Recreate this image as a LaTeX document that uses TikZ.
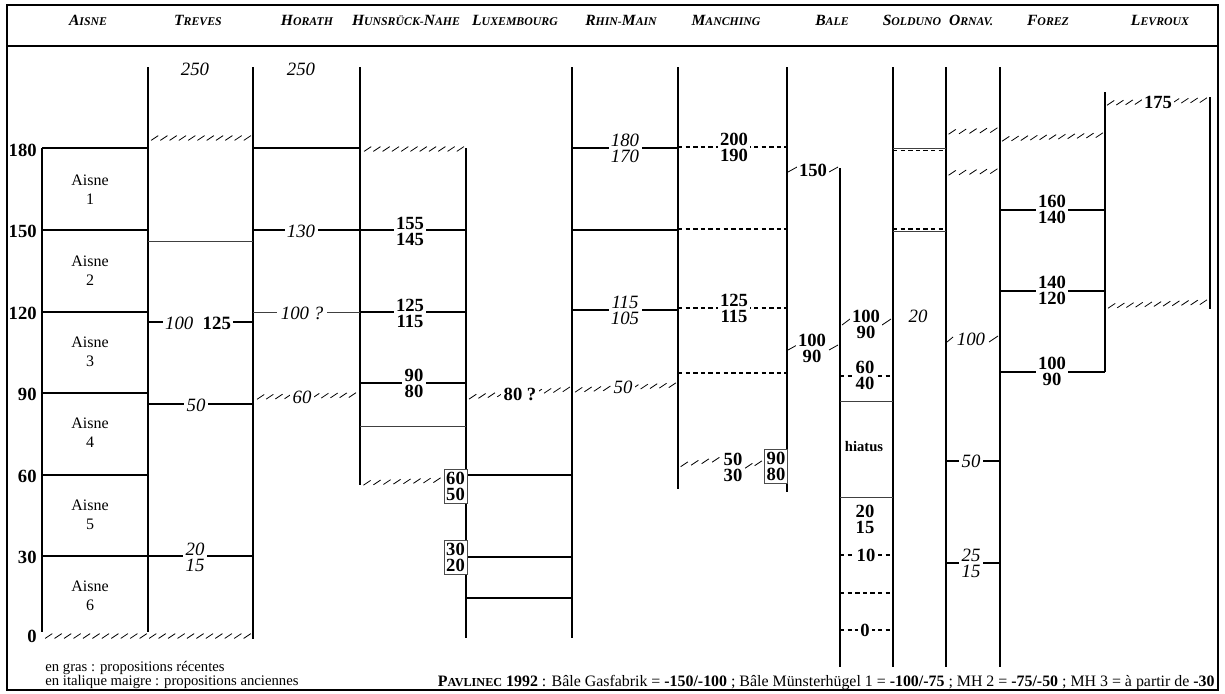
\documentclass[tikz,border=0pt]{standalone}
\usepackage{fontspec}
\setmainfont{Liberation Serif}
\newcommand\hdr[2]{{\bfseries\itshape\fontsize{7.8}{8}\selectfont #1\fontsize{5.9}{6}\selectfont #2}}
\newcommand\hatchband[4]{%
  \pgfmathsetmacro\hbl{(#3)-(#1)}%
  \pgfmathtruncatemacro\hbn{max(1,round(\hbl/9.5))}%
  \foreach \hk in {1,...,\hbn}{%
    \pgfmathsetmacro\hbx{#1+(\hk-0.5)*\hbl/\hbn}%
    \pgfmathsetmacro\hby{#2+(\hk-0.5)*((#4)-(#2))/\hbn}%
    \draw[hst] (\hbx-3.6,\hby+2.4) -- (\hbx+3.6,\hby-2.4);
  }}
\begin{document}
\begin{tikzpicture}[x=0.5pt,y=-0.5pt,
  ln/.style={line width=0.7pt},
  tl/.style={line width=0.45pt, black!75},
  dl/.style={line width=0.6pt, dash pattern=on 2.2pt off 1.6pt},
  hst/.style={line width=0.4pt},
  bn/.style={font=\bfseries\fontsize{9.3}{8}\selectfont, fill=white, inner xsep=1.2pt, inner ysep=0pt, align=center},
  it/.style={font=\itshape\fontsize{9.4}{8}\selectfont, fill=white, inner xsep=1.2pt, inner ysep=0pt, align=center},
  ax/.style={font=\bfseries\fontsize{9.3}{10}\selectfont, anchor=east, inner sep=0pt},
  rg/.style={font=\fontsize{8}{9.5}\selectfont, align=center, inner sep=0pt},
  bx/.style={draw=black!70, line width=0.4pt, text=black, fill=white, inner sep=0.5pt, font=\bfseries\fontsize{9.3}{8}\selectfont, align=center, minimum width=11.5pt, minimum height=17pt},
  hd/.style={anchor=base, inner sep=0pt}]
\useasboundingbox (0,0) rectangle (1225,693);
% frame
\draw[line width=0.75pt] (7,5) rectangle (1218,690);
\draw[line width=0.75pt] (7,46) -- (1218,46);
% headers
\node[hd] (hA) at (88,25) {\hdr{A}{ISNE}};
\node[hd] (hT) at (198,25) {\hdr{T}{REVES}};
\node[hd] (hH) at (307,25) {\hdr{H}{ORATH}};
\node[hd] (hHN) at (406,25) {\hdr{H}{UNSRÜCK-}\hdr{N}{AHE}};
\node[hd] (hL) at (515,25) {\hdr{L}{UXEMBOURG}};
\node[hd] (hR) at (621,25) {\hdr{R}{HIN-}\hdr{M}{AIN}};
\node[hd] (hM) at (726,25) {\hdr{M}{ANCHING}};
\node[hd] (hB) at (832,25) {\hdr{B}{ALE}};
\node[hd] (hS) at (912,25) {\hdr{S}{OLDUNO}};
\node[hd] (hO) at (971,25) {\hdr{O}{RNAV.}};
\node[hd] (hF) at (1048,25) {\hdr{F}{OREZ}};
\node[hd] (hLv) at (1160,25) {\hdr{L}{EVROUX}};
% vertical lines
\draw[ln] (42,148) -- (42,632);
\draw[ln] (148,67) -- (148,632);
\draw[ln] (253,67) -- (253,639);
\draw[ln] (360,67) -- (360,485);
\draw[ln] (466,148) -- (466,638);
\draw[ln] (572,67) -- (572,638);
\draw[ln] (678,67) -- (678,489);
\draw[ln] (787,67) -- (787,492);
\draw[ln] (840,168) -- (840,667);
\draw[ln] (893,67) -- (893,667);
\draw[ln] (946,67) -- (946,667);
\draw[ln] (1000,67) -- (1000,667);
\draw[ln] (1105,92) -- (1105,372);
\draw[ln] (1210,97) -- (1210,309);
% axis
\node[ax] (a180) at (37,150) {180};
\node[ax] (a150) at (37,231) {150};
\node[ax] (a120) at (37,313) {120};
\node[ax] (a90) at (37,394) {90};
\node[ax] (a60) at (37,476) {60};
\node[ax] (a30) at (37,557) {30};
\node[ax] (a0) at (37,636) {0};
% Aisne
\foreach \yy in {148,230,312,393,475} {\draw[ln] (42,\yy) -- (148,\yy);}
\draw[ln] (42,556) -- (253,556);
\node[rg] (ai1) at (90,190) {Aisne\\1};
\node[rg] (ai2) at (90,271) {Aisne\\2};
\node[rg] (ai3) at (90,352) {Aisne\\3};
\node[rg] (ai4) at (90,433) {Aisne\\4};
\node[rg] (ai5) at (90,515) {Aisne\\5};
\node[rg] (ai6) at (90,596) {Aisne\\6};
\hatchband{44}{636}{252}{636}
% Treves
\node[it] (t250) at (195,69) {250};
\hatchband{150}{138}{252}{138}
\draw[tl] (148,241) -- (253,241);
\draw[ln] (148,322) -- (253,322);
\node[fill=white, inner xsep=1.2pt, inner ysep=0pt] (t100) at (198,323) {\itshape\fontsize{9.4}{8}\selectfont 100\ \ \bfseries\upshape 125};
\draw[ln] (148,404) -- (253,404);
\node[it] (t50) at (196,405) {50};
\node[it] (t2015) at (195,557) {20\\15};
% Horath
\node[it] (h250) at (301,69) {250};
\draw[ln] (253,148) -- (360,148);
\draw[ln] (253,230) -- (360,230);
\node[it] (h130) at (301,231) {130};
\draw[tl] (253,312) -- (360,312);
\node[it, inner xsep=2pt] (h100) at (302,313) {100 ?};
\hatchband{256}{397}{357}{395}
\node[it] (h60) at (302,397) {60};
% Hunsrueck-Nahe
\hatchband{363}{149}{465}{149}
\draw[ln] (360,230) -- (466,230);
\node[bn] (hn155) at (410,231) {155\\145};
\draw[ln] (360,312) -- (466,312);
\node[bn] (hn125) at (410,313) {125\\115};
\draw[ln] (360,383) -- (466,383);
\node[bn] (hn90) at (414,383) {90\\80};
\draw[tl] (360,426) -- (466,426);
\hatchband{362}{483}{442}{480}
\draw[ln] (466,475) -- (572,475);
\draw[ln] (466,557) -- (572,557);
\draw[ln] (466,598) -- (572,598);
\node[bx] (hn60) at (455.5,486) {60\\50};
\node[bx] (hn30) at (455.5,557.5) {30\\20};
% Luxembourg
\hatchband{468}{397}{571}{389}
\node[bn] (lx80) at (520,394) {80 ?};
% Rhin-Main
\draw[ln] (572,148) -- (678,148);
\node[it] (rm180) at (625,148) {180\\170};
\draw[ln] (572,230) -- (678,230);
\draw[ln] (572,310) -- (678,310);
\node[it] (rm115) at (625,310) {115\\105};
\hatchband{574}{390}{677}{385}
\node[it] (rm50) at (623,387) {50};
% Manching
\draw[dl] (678,147) -- (787,147);
\node[bn] (m200) at (734,147) {200\\190};
\draw[dl] (678,229) -- (787,229);
\draw[dl] (678,308) -- (787,308);
\node[bn] (m125) at (734,308) {125\\115};
\draw[dl] (678,373) -- (787,373);
\hatchband{679}{465}{721}{459}
\node[bn, fill=none] (m50) at (733,467) {50\\30};
\hatchband{744}{467}{763}{462}
\node[bx] (m90) at (776,466) {90\\80};
% Bale
\draw[hst] (788,172) -- (797,167);
\draw[hst] (829,172) -- (838,167);
\node[bn] (b150) at (813,170) {150};
\draw[hst] (788,350) -- (797,345);
\draw[hst] (829,350) -- (838,345);
\node[bn] (b100a) at (812,348) {100\\90};
\draw[hst] (842,325) -- (850,319);
\draw[hst] (882,325) -- (891,319);
\node[bn] (b100b) at (866,324) {100\\90};
\draw[dl] (840,376) -- (893,376);
\node[bn] (b60) at (865,375.5) {60\\40};
\draw[tl] (840,401) -- (893,401);
\node[font=\bfseries\fontsize{7.3}{8}\selectfont, inner sep=0pt] (bh) at (864,447) {hiatus};
\draw[tl] (840,497) -- (893,497);
\node[bn] (b20) at (865,519) {20\\15};
\draw[dl] (840,555) -- (893,555);
\node[bn] (b10) at (866,555) {10};
\draw[dl] (840,593) -- (893,593);
\draw[dl] (840,630) -- (893,630);
\node[bn] (b0) at (865,630) {0};
% Solduno
\draw[tl] (893,148) -- (946,148);
\draw[dl] (893,150.5) -- (946,150.5);
\draw[tl] (893,231) -- (946,231);
\draw[dl] (893,229) -- (946,229);
\node[it] (s20) at (918,316) {20};
% Ornavasso
\hatchband{947}{132}{999}{130}
\hatchband{947}{173}{999}{171}
\draw[hst] (947,342) -- (953,337);
\draw[hst] (989,342) -- (998,336);
\node[it, fill=none] (o100) at (971,339) {100};
\draw[ln] (946,461) -- (1000,461);
\node[it] (o50) at (971,461) {50};
\draw[ln] (946,563) -- (1000,563);
\node[it] (o25) at (971,563) {25\\15};
% Forez
\hatchband{1001}{139}{1104}{135}
\draw[ln] (1000,210) -- (1105,210);
\node[bn] (f160) at (1052,209) {160\\140};
\draw[ln] (1000,291) -- (1105,291);
\node[bn] (f140) at (1052,290) {140\\120};
\draw[ln] (1000,372) -- (1105,372);
\node[bn] (f100) at (1052,371) {100\\90};
% Levroux
\hatchband{1106}{103}{1208}{100}
\node[bn] (l175) at (1158,102) {175};
\hatchband{1107}{306}{1208}{302}
% legend / footer
\node[anchor=base west, inner sep=0pt, font=\fontsize{7.35}{8}\selectfont] (lg1) at (45,671) {en gras : propositions récentes};
\node[anchor=base west, inner sep=0pt, font=\fontsize{7.35}{8}\selectfont] (lg2) at (45,685) {en italique maigre : propositions anciennes};
\node[anchor=base east, inner sep=0pt, font=\fontsize{7.95}{8}\selectfont] (ft) at (1215,686) {{\bfseries P{\fontsize{6.1}{6}\selectfont AVLINEC} 1992} : Bâle Gasfabrik = \textbf{-150/-100} ; Bâle Münsterhügel 1 = \textbf{-100/-75} ; MH 2 = \textbf{-75/-50} ; MH 3 = à partir de \textbf{-30}};
\end{tikzpicture}
\end{document}
